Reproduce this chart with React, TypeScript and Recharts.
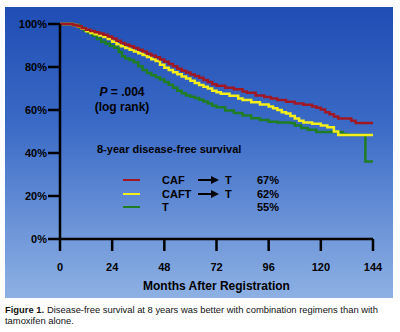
import React from "react";
import { LineChart, Line, XAxis, YAxis } from "recharts";

// months after registration / disease-free survival (%)
const cafMonths = [0, 6, 8, 10, 12, 14, 16, 18, 20, 22, 24, 26, 28, 30, 32, 34, 36, 38, 40, 42, 44, 46, 48, 50, 52, 54, 56, 58, 60, 62, 64, 66, 68, 70, 72, 76, 80, 84, 86, 90, 94, 97, 100, 104, 108, 112, 116, 118, 120, 122, 124, 126, 128, 131, 134, 136, 144];
const cafValues = [100, 99.5, 99, 98, 97.3, 96.8, 96.2, 95.6, 95, 94.2, 93.2, 92.2, 91.2, 90.4, 89.6, 88.8, 88, 87.2, 86.2, 85.3, 84.5, 83.5, 82.5, 81.4, 80.3, 79.2, 78.3, 77.4, 76.5, 75.8, 75, 74, 73, 72, 71.3, 70.4, 69.6, 68.6, 68, 66.8, 66, 65.4, 64.6, 63.8, 63, 62.4, 61.6, 61, 60.2, 59, 58, 57, 56, 56, 55, 54, 54];

const caftMonths = [0, 6, 8, 10, 12, 14, 16, 18, 20, 22, 24, 26, 28, 30, 32, 34, 36, 38, 40, 42, 44, 46, 48, 50, 52, 54, 56, 58, 60, 62, 64, 66, 68, 70, 72, 74, 78, 82, 84, 88, 92, 96, 98, 100, 102, 104, 106, 108, 110, 112, 116, 120, 123, 126, 128, 144];
const caftValues = [100, 99.5, 98.8, 97.8, 96.6, 95.8, 95.2, 94.6, 94, 93, 91.8, 90.6, 89.6, 88.8, 88, 87.2, 86.4, 85.6, 84.6, 83.6, 82.8, 81, 79.6, 78.6, 77.6, 76.6, 75.6, 74.6, 73.6, 72.6, 71.6, 70.8, 70, 69, 68.2, 67.6, 66.6, 65.4, 64.7, 63.6, 62.6, 61.6, 60.8, 60, 59, 58.4, 57.2, 56, 55, 54.2, 53.6, 52.8, 52, 50, 48.4, 48.4];

const tMonths = [0, 6, 9, 11, 13, 15, 17, 19, 21, 23, 25, 27, 28.5, 30, 32, 34, 36, 38, 40, 42, 44, 46, 48, 50, 52, 54, 56, 58, 60, 62, 64, 66, 68, 70, 72, 76, 80, 84, 88, 92, 96, 100, 106, 108, 111, 114, 118, 130, 132, 140.5, 144];
const tValues = [100, 99.5, 98.2, 97, 95.8, 94.5, 93, 91.8, 90.8, 89.8, 89, 87, 85, 84, 83.2, 82.2, 80.4, 78.6, 77.2, 76.2, 75.2, 74.2, 73, 71.8, 70.4, 69, 67.8, 66.8, 66.2, 65.6, 64.8, 64, 63, 62, 61.3, 59.8, 58.6, 57.4, 56.2, 55.4, 54.5, 54.2, 54, 52.8, 51.6, 50.8, 49.8, 48.8, 48.4, 36, 36];

const monthTicks = [0, 24, 48, 72, 96, 120, 144];
const pctTicks = [0, 20, 40, 60, 80, 100];

const legendNames = ["CAF", "CAFT", "T"];
const legendColors = ["#a01824", "#f4ee1a", "#1f7d24"];
const legendRates = ["67%", "62%", "55%"];
const legendArrow = [true, true, false];

const toRows = (ms: number[], vs: number[]) => ms.map((m, i) => ({ m, v: vs[i] }));

const FONT = '"Liberation Sans", Arial, Helvetica, sans-serif';

function Arrow({ x, y }: { x: number; y: number }) {
  return (
    <svg style={{ position: "absolute", left: x, top: y - 5 }} width={22} height={10}>
      <line x1={0} y1={5} x2={14} y2={5} stroke="#000" strokeWidth={2} />
      <polygon points="13,1 21,5 13,9" fill="#000" />
    </svg>
  );
}

export default function App() {
  const axisStyle = { stroke: "#000", strokeWidth: 2.5 };
  const tickStyle = { fill: "#000", fontSize: 11, fontWeight: 700, fontFamily: FONT };
  const captionStyle = { position: "absolute" as const, fontSize: 9.4, lineHeight: "11px", color: "#111", whiteSpace: "nowrap" as const };
  return (
    <div style={{ position: "fixed", left: 0, top: 0, width: 400, height: 332, background: "#fff", fontFamily: FONT }}>
      <div
        style={{
          position: "absolute",
          left: 5,
          top: 7,
          width: 388,
          height: 291,
          background: "linear-gradient(to bottom, #1f4db4 0%, #3a6ac6 40%, #8eb1e4 100%)",
        }}
      />
      <div style={{ position: "absolute", left: 0, top: 0 }}>
        <LineChart width={400} height={300} margin={{ top: 24, right: 27, bottom: 0, left: 8 }}>
          <XAxis
            type="number"
            dataKey="m"
            domain={[0, 144]}
            ticks={monthTicks}
            axisLine={axisStyle}
            tickLine={axisStyle}
            tickSize={12}
            tickMargin={12}
            tick={tickStyle}
            height={61}
            interval={0}
            allowDuplicatedCategory={false}
          />
          <YAxis
            type="number"
            domain={[0, 100]}
            ticks={pctTicks}
            tickFormatter={(v) => `${v}%`}
            axisLine={axisStyle}
            tickLine={axisStyle}
            tickSize={12}
            tickMargin={1}
            tick={tickStyle}
            width={52}
            interval={0}
          />
          <Line data={toRows(tMonths, tValues)} dataKey="v" type="stepAfter" stroke={legendColors[2]} strokeWidth={2.5} dot={false} isAnimationActive={false} />
          <Line data={toRows(caftMonths, caftValues)} dataKey="v" type="stepAfter" stroke={legendColors[1]} strokeWidth={2.5} dot={false} isAnimationActive={false} />
          <Line data={toRows(cafMonths, cafValues)} dataKey="v" type="stepAfter" stroke={legendColors[0]} strokeWidth={2.5} dot={false} isAnimationActive={false} />
        </LineChart>
      </div>

      <div style={{ position: "absolute", left: 60, width: 313, top: 279, textAlign: "center", fontSize: 12, fontWeight: 700 }}>
        Months After Registration
      </div>

      <div style={{ position: "absolute", left: 72, width: 100, top: 85, textAlign: "center", fontSize: 12, fontWeight: 700, lineHeight: "15px" }}>
        <div><i>P</i> = .004</div>
        <div>(log rank)</div>
      </div>

      <div style={{ position: "absolute", left: 97, top: 143, fontSize: 11, fontWeight: 700 }}>
        8-year disease-free survival
      </div>

      {legendNames.map((name, i) => {
        const y = 180 + i * 13.5;
        return (
          <React.Fragment key={name}>
            <div style={{ position: "absolute", left: 123, top: y - 1, width: 17, height: 2, background: legendColors[i] }} />
            <div style={{ position: "absolute", left: 162, top: y - 7, fontSize: 11, fontWeight: 700, lineHeight: "14px" }}>{name}</div>
            {legendArrow[i] && <Arrow x={198} y={y} />}
            {legendArrow[i] && (
              <div style={{ position: "absolute", left: 225, top: y - 7, fontSize: 11, fontWeight: 700, lineHeight: "14px" }}>T</div>
            )}
            <div style={{ position: "absolute", left: 257, top: y - 7, fontSize: 11, fontWeight: 700, lineHeight: "14px" }}>{legendRates[i]}</div>
          </React.Fragment>
        );
      })}

      <div style={{ ...captionStyle, left: 5, top: 304, fontWeight: 700 }}>Figure 1.</div>
      <div style={{ ...captionStyle, left: 47, top: 304 }}>
        Disease-free survival at 8 years was better with combination regimens than with
      </div>
      <div style={{ ...captionStyle, left: 5, top: 315 }}>tamoxifen alone.</div>
    </div>
  );
}
